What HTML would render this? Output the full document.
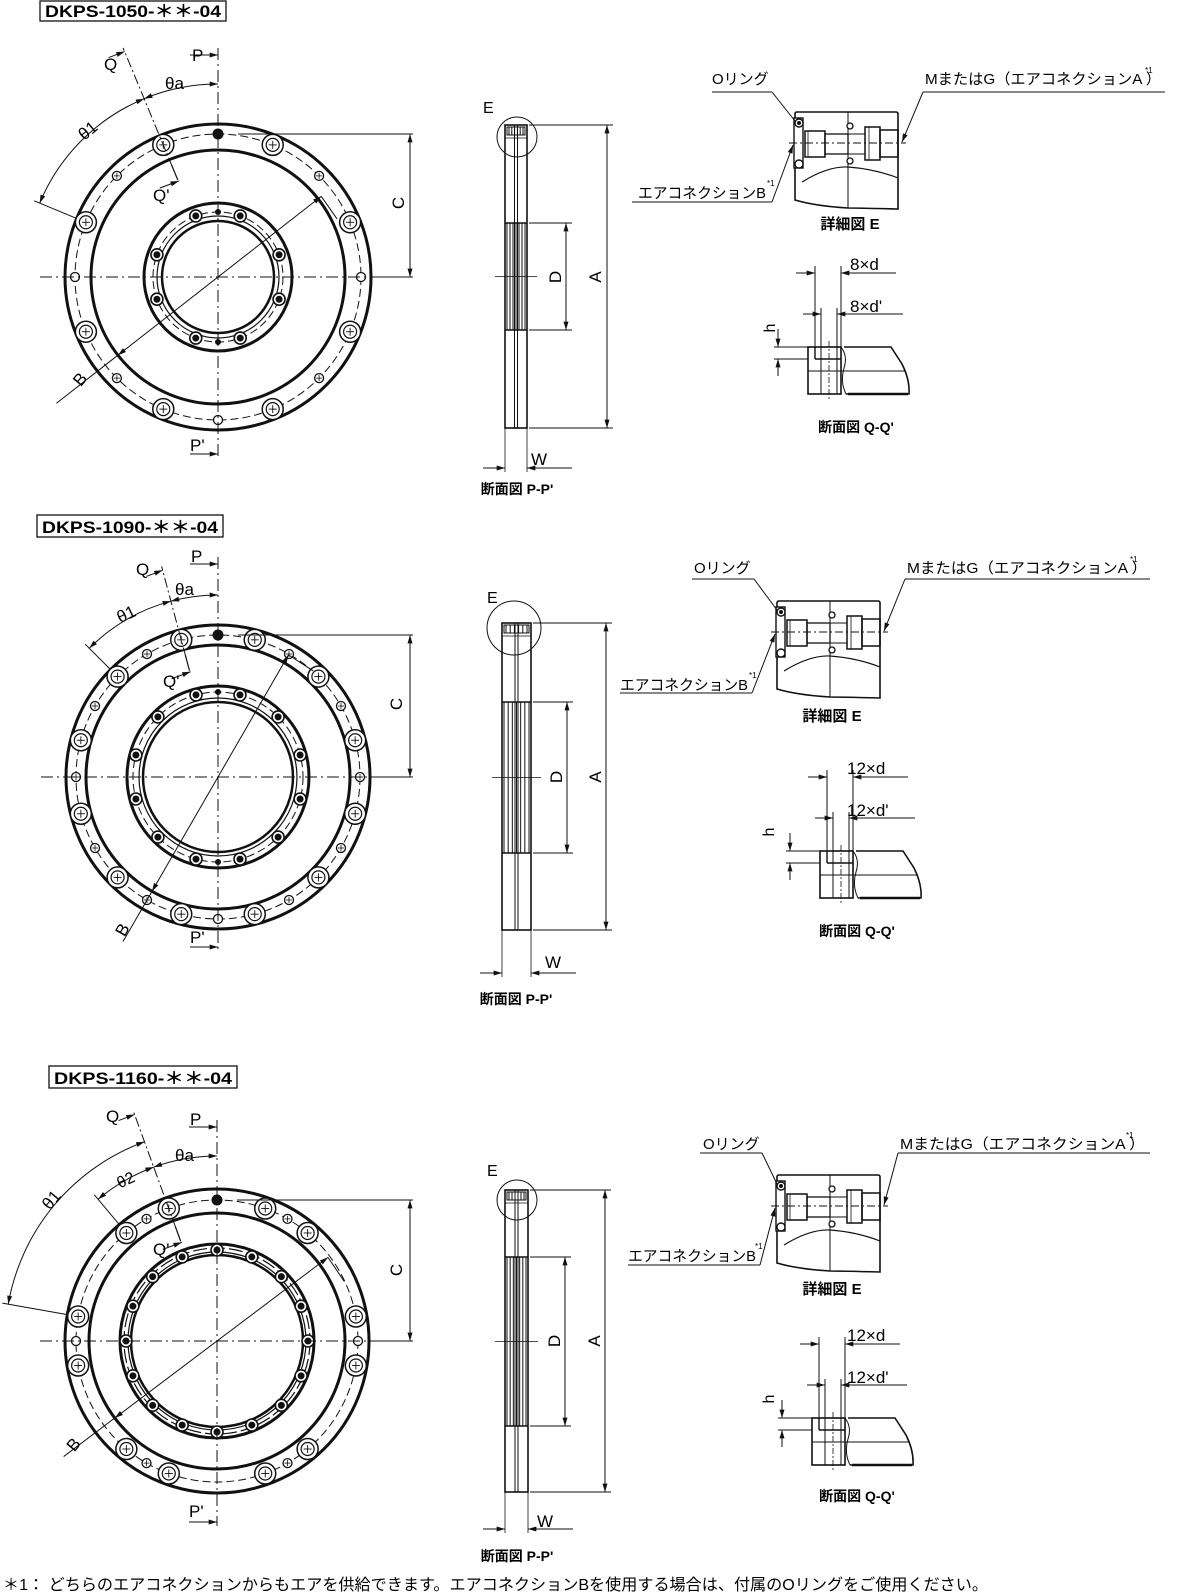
<!DOCTYPE html>
<html><head><meta charset="utf-8">
<style>
html,body{margin:0;padding:0;background:#fff;}
svg{display:block;}
text{font-family:"Liberation Sans","Noto Sans CJK JP",sans-serif;fill:#000;}
.b{font-weight:bold;}
</style></head>
<body>
<svg id="s" xmlns="http://www.w3.org/2000/svg" width="1202" height="1596" viewBox="0 0 1202 1596">
<defs>
<marker id="ar" viewBox="0 0 10 6" refX="10" refY="3" markerWidth="9" markerHeight="5" orient="auto-start-reverse" markerUnits="userSpaceOnUse"><path d="M0,0 L10,3 L0,6 z" fill="#111"/></marker>
</defs>
<g id="g" stroke="#111" fill="none"></g>

<!-- Titles -->
<rect x="40" y="1" width="186" height="20" fill="none" stroke="#111" stroke-width="1.3"/>
<text x="45" y="17" class="b" font-size="17" textLength="176" lengthAdjust="spacingAndGlyphs">DKPS-1050-＊＊-04</text>
<rect x="37" y="515" width="186" height="22" fill="none" stroke="#111" stroke-width="1.3"/>
<text x="42" y="533" class="b" font-size="17" textLength="176" lengthAdjust="spacingAndGlyphs">DKPS-1090-＊＊-04</text>
<rect x="49" y="1066" width="188" height="22" fill="none" stroke="#111" stroke-width="1.3"/>
<text x="54" y="1084" class="b" font-size="17" textLength="178" lengthAdjust="spacingAndGlyphs">DKPS-1160-＊＊-04</text>

<!-- Section 1 ring labels -->
<text x="192" y="61" font-size="17">P</text>
<text x="190" y="451" font-size="17">P'</text>
<text x="104" y="70" font-size="17">Q</text>
<text x="165" y="89" font-size="17">θa</text>
<text x="78" y="136" font-size="17" transform="rotate(-40 88 130)">θ1</text>
<text x="153" y="201" font-size="17">Q'</text>
<text x="74" y="383" font-size="17" transform="rotate(-50 82 378)">B</text>
<text x="404" y="203" font-size="17" transform="rotate(-90 404 203)" text-anchor="middle">C</text>

<!-- Section 2 ring labels -->
<text x="191" y="562" font-size="17">P</text>
<text x="190" y="943" font-size="17">P'</text>
<text x="136" y="575" font-size="17">Q</text>
<text x="175" y="595" font-size="17">θa</text>
<text x="116" y="619" font-size="17" transform="rotate(-25 128 612)">θ1</text>
<text x="163" y="687" font-size="17">Q'</text>
<text x="115" y="935" font-size="17" transform="rotate(-60 122 928)">B</text>
<text x="402" y="704" font-size="17" transform="rotate(-90 402 704)" text-anchor="middle">C</text>

<!-- Section 3 ring labels -->
<text x="190" y="1125" font-size="17">P</text>
<text x="189" y="1517" font-size="17">P'</text>
<text x="106" y="1122" font-size="17">Q</text>
<text x="175" y="1161" font-size="17">θa</text>
<text x="116" y="1185" font-size="16" transform="rotate(-25 126 1178)">θ2</text>
<text x="40" y="1206" font-size="17" transform="rotate(-50 50 1198)">θ1</text>
<text x="153" y="1255" font-size="17">Q'</text>
<text x="66" y="1449" font-size="17" transform="rotate(-50 74 1442)">B</text>
<text x="402" y="1270" font-size="17" transform="rotate(-90 402 1270)" text-anchor="middle">C</text>

<!-- Side views labels -->
<text x="483" y="113" font-size="16">E</text>
<text x="561" y="277" font-size="17" transform="rotate(-90 561 277)" text-anchor="middle">D</text>
<text x="601" y="277" font-size="17" transform="rotate(-90 601 277)" text-anchor="middle">A</text>
<text x="531" y="465" font-size="17">W</text>
<text x="517" y="494" font-size="14" class="b" text-anchor="middle">断面図 P-P'</text>

<text x="487" y="603" font-size="16">E</text>
<text x="562" y="777" font-size="17" transform="rotate(-90 562 777)" text-anchor="middle">D</text>
<text x="601" y="777" font-size="17" transform="rotate(-90 601 777)" text-anchor="middle">A</text>
<text x="545" y="968" font-size="17">W</text>
<text x="516" y="1004" font-size="14" class="b" text-anchor="middle">断面図 P-P'</text>

<text x="487" y="1176" font-size="16">E</text>
<text x="560" y="1341" font-size="17" transform="rotate(-90 560 1341)" text-anchor="middle">D</text>
<text x="600" y="1341" font-size="17" transform="rotate(-90 600 1341)" text-anchor="middle">A</text>
<text x="537" y="1527" font-size="17">W</text>
<text x="517" y="1561" font-size="14" class="b" text-anchor="middle">断面図 P-P'</text>

<!-- Detail E labels -->
<text x="712" y="84" font-size="15">Oリング</text>
<text x="925" y="84" font-size="15" textLength="236" lengthAdjust="spacingAndGlyphs">MまたはG（エアコネクションA ）</text>
<text x="1145" y="73" font-size="8">*1</text>
<text x="638" y="198" font-size="15" textLength="128" lengthAdjust="spacingAndGlyphs">エアコネクションB</text>
<text x="767" y="186" font-size="8">*1</text>
<text x="850" y="229" font-size="15" class="b" text-anchor="middle">詳細図 E</text>

<text x="694" y="573" font-size="15">Oリング</text>
<text x="907" y="573" font-size="15" textLength="240" lengthAdjust="spacingAndGlyphs">MまたはG（エアコネクションA ）</text>
<text x="1130" y="562" font-size="8">*1</text>
<text x="620" y="690" font-size="15" textLength="128" lengthAdjust="spacingAndGlyphs">エアコネクションB</text>
<text x="749" y="678" font-size="8">*1</text>
<text x="832" y="721" font-size="15" class="b" text-anchor="middle">詳細図 E</text>

<text x="703" y="1149" font-size="15">Oリング</text>
<text x="900" y="1149" font-size="15" textLength="245" lengthAdjust="spacingAndGlyphs">MまたはG（エアコネクションA ）</text>
<text x="1126" y="1138" font-size="8">*1</text>
<text x="628" y="1261" font-size="15" textLength="128" lengthAdjust="spacingAndGlyphs">エアコネクションB</text>
<text x="755" y="1249" font-size="8">*1</text>
<text x="832" y="1294" font-size="15" class="b" text-anchor="middle">詳細図 E</text>

<!-- Q-Q' labels -->
<text x="850" y="270" font-size="17">8×d</text>
<text x="850" y="312" font-size="17">8×d'</text>
<text x="775" y="328" font-size="16" transform="rotate(-90 775 328)" text-anchor="middle">h</text>
<text x="856" y="432" font-size="14" class="b" text-anchor="middle">断面図 Q-Q'</text>

<text x="847" y="774" font-size="17">12×d</text>
<text x="847" y="816" font-size="17">12×d'</text>
<text x="774" y="832" font-size="16" transform="rotate(-90 774 832)" text-anchor="middle">h</text>
<text x="857" y="936" font-size="14" class="b" text-anchor="middle">断面図 Q-Q'</text>

<text x="847" y="1341" font-size="17">12×d</text>
<text x="847" y="1383" font-size="17">12×d'</text>
<text x="774" y="1399" font-size="16" transform="rotate(-90 774 1399)" text-anchor="middle">h</text>
<text x="857" y="1501" font-size="14" class="b" text-anchor="middle">断面図 Q-Q'</text>

<text x="3" y="1590" font-size="16" textLength="985" lengthAdjust="spacingAndGlyphs">＊1：  どちらのエアコネクションからもエアを供給できます。エアコネクションBを使用する場合は、付属のOリングをご使用ください。</text>
</svg>
<script>
(function(){
var o=[];
function L(x1,y1,x2,y2,w,extra){o.push('<line x1="'+x1+'" y1="'+y1+'" x2="'+x2+'" y2="'+y2+'" stroke-width="'+(w||1)+'" '+(extra||'')+'/>');}
function C(x,y,r,w,fill,extra){o.push('<circle cx="'+x+'" cy="'+y+'" r="'+r+'" stroke-width="'+(w||1)+'" fill="'+(fill||'none')+'" '+(extra||'')+'/>');}
function Pth(d,w,extra){o.push('<path d="'+d+'" stroke-width="'+(w||1)+'" '+(extra||'')+'/>');}
function pt(cx,cy,r,a){a=a*Math.PI/180;return [cx+r*Math.sin(a),cy-r*Math.cos(a)];}
var A2='marker-end="url(#ar)"',AB='marker-start="url(#ar)" marker-end="url(#ar)"';
var DD='stroke-dasharray="12 4 2 4"',DS='stroke-dasharray="8 4"';
function arc(cx,cy,r,a1,a2,extra){var p=pt(cx,cy,r,a1),q=pt(cx,cy,r,a2);Pth('M'+p[0]+','+p[1]+' A'+r+','+r+' 0 0 1 '+q[0]+','+q[1],1,extra);}
function big(x,y){C(x,y,10.5,1.5,'#fff');C(x,y,6.5,1.2);L(x-4,y,x+4,y,0.9);L(x,y-4,x,y+4,0.9);}
function sm(x,y){C(x,y,4.5,1.3,'#fff');L(x-3,y,x+3,y,0.8);L(x,y-3,x,y+3,0.8);}
function op(x,y){C(x,y,4.5,1.3,'#fff');}
function so(x,y){C(x,y,5,1,'#111');}
function hh(x,y){C(x,y,6,1.6,'#fff');C(x,y,3,1,'#111');}
function ring(c){
 var cx=c.cx,cy=c.cy;
 C(cx,cy,c.R,3);C(cx,cy,c.Rf,3);
 C(cx,cy,c.Rb,1,'none',DS);
 c.hubR.forEach(function(h){C(cx,cy,h[0],h[1],'none',h[2]||'');});
 c.big.forEach(function(a){var p=pt(cx,cy,c.Rb,a);big(p[0],p[1]);});
 c.sm.forEach(function(a){var p=pt(cx,cy,c.Rb,a);sm(p[0],p[1]);});
 c.op.forEach(function(a){var p=pt(cx,cy,c.Rb,a);op(p[0],p[1]);});
 c.so.forEach(function(a){var p=pt(cx,cy,c.Rb,a);so(p[0],p[1]);});
 c.hh.forEach(function(a){var p=pt(cx,cy,c.hb,a);hh(p[0],p[1]);});
 c.hd.forEach(function(a){var p=pt(cx,cy,c.hb,a);C(p[0],p[1],2.5,1,'#111');});
 L(cx-c.R-25,cy,cx+c.R+40,cy,1,DD);
 L(cx,cy-c.Ptop,cx,cy+c.Pbot,1,DD);
 L(cx-28,cy-c.Ptop+7,cx,cy-c.Ptop+7,1,A2);
 L(cx-28,cy+c.Pbot-4,cx,cy+c.Pbot-4,1,A2);
 L(cx+20,cy-c.Rb,413,cy-c.Rb,1);L(cx+c.R,cy,413,cy,1);
 L(410,cy-c.Rb,410,cy,1,AB);
 var q1=pt(cx,cy,c.Rf-8,c.qa),q2=pt(cx,cy,c.qr,c.qa);L(q1[0],q1[1],q2[0],q2[1],1,'stroke-dasharray="10 3 2 3"');
 var qq=pt(cx,cy,c.qr-4,c.qa);L(qq[0]-16,qq[1]+6,qq[0],qq[1],1,A2);
 var qp=pt(cx,cy,c.Rf-6,c.qa),qp2=pt(cx,cy,c.Rf-22,c.qa);L(qp[0],qp[1],qp2[0],qp2[1],1.2);
 L(qp2[0]-18,qp2[1]+8,qp2[0]+1,qp2[1]+1,1,A2);
 arc(cx,cy,c.ar,c.qa,0,AB);
 arc(cx,cy,c.r1,c.a1,c.qa,AB);
 var e1=pt(cx,cy,c.R,c.a1),e2=pt(cx,cy,c.r1+6,c.a1);L(e1[0],e1[1],e2[0],e2[1],1);
 if(c.a2){arc(cx,cy,c.ar,c.a2,c.qa,AB);var f1=pt(cx,cy,c.R,c.a2),f2=pt(cx,cy,c.ar+6,c.a2);L(f1[0],f1[1],f2[0],f2[1],1);}
 var b1=pt(cx,cy,c.bu,c.ba),b2=pt(cx,cy,c.Rf,c.ba+180),b3=pt(cx,cy,c.bl,c.ba+180);
 L(b2[0],b2[1],b1[0],b1[1],1,AB);L(b2[0],b2[1],b3[0],b3[1],1);
 var t1=pt(cx,cy,c.bu,c.ba),t2=pt(cx,cy,c.bu,c.ba+6);L(t1[0],t1[1],t2[0]+(t2[0]-t1[0]),t2[1]+(t2[1]-t1[1]),1);
}
ring({cx:218,cy:277,R:153,Rf:127,Rb:143,
 hubR:[[74,3],[65,1,'stroke-dasharray="8 4"'],[61,1.2],[56,2.5]],hb:65,
 big:[22.5,67.5,112.5,157.5,202.5,247.5,292.5,337.5],sm:[45,135,225,315],op:[90,180,270],so:[0],
 hh:[20,70,110,160,200,250,290,340],hd:[0,180],Ptop:229,Pbot:181,qa:-22.5,qr:248,ar:193,r1:193,a1:-67.5,
 ba:52,bu:131,bl:205});
ring({cx:218,cy:777,R:152,Rf:132,Rb:142,
 hubR:[[91,3],[85,1,'stroke-dasharray="8 4"'],[79,1.2],[75,2.5]],hb:85,
 big:[15,45,75,105,135,165,195,225,255,285,315,345],sm:[30,60,90,120,150,210,240,270,300,330],op:[180],so:[0],
 hh:[15,45,75,105,135,165,195,225,255,285,315,345],hd:[0,180],Ptop:220,Pbot:174,qa:-15,qr:218,ar:182,r1:182,a1:-45,
 ba:30,bu:141,bl:190});
ring({cx:217,cy:1341,R:152,Rf:128,Rb:141,
 hubR:[[97,3],[93,1.2,'stroke-dasharray="14 4"'],[89,1.2],[86,2.5]],hb:91,
 big:[20,40,80,100,140,160,200,220,260,280,320,340],sm:[30,150,210,330],op:[90,270],so:[0],
 hh:[0,22.5,45,67.5,90,112.5,135,157.5,180,202.5,225,247.5,270,292.5,315,337.5],hd:[],Ptop:221,Pbot:185,qa:-20,qr:245,ar:185,r1:212,a1:-80,a2:-40,
 ba:53,bu:139,bl:192});
function side(x1,x2,top,bot,s1,s2,ex,ey,er,Ax,Dx,Wy){
 var m=(x1+x2)/2;
 o.push('<rect x="'+x1+'" y="'+top+'" width="'+(x2-x1)+'" height="'+(bot-top)+'" stroke-width="1.6" fill="#fff"/>');
 L(m-1.5,top,m-1.5,bot,1);L(m+1.5,top,m+1.5,bot,1);
 for(var i=0;i<7;i++){var x=x1+2+i*(x2-x1-4)/6;L(x,s1,x,s2,1);}
 L(x1,s1,x2,s1,1.5);L(x1,s2,x2,s2,1.5);
 o.push('<rect x="'+(x1+2)+'" y="'+(top+2)+'" width="'+(x2-x1-4)+'" height="8" stroke-width="1"/>');
 for(var j=0;j<6;j++){var xx=x1+4+j*(x2-x1-8)/5;L(xx,top+2,xx,top+10,1);}
 L(x1,top+13,x2,top+13,0.8);
 C(ex,ey,er,1);
 var my=(s1+s2)/2;L(x1-10,my,x2+10,my,0.8);
 L(x2+2,top,Ax+6,top,1);L(x2+2,bot,Ax+6,bot,1);L(Ax,top,Ax,bot,1,AB);
 L(x2+2,s1,Dx+6,s1,1);L(x2+2,s2,Dx+6,s2,1);L(Dx,s1,Dx,s2,1,AB);
 L(x1,bot,x1,Wy+4,0.8);L(x2,bot,x2,Wy+4,0.8);
 L(x1-22,Wy,x1,Wy,1,A2);L(x2+45,Wy,x2,Wy,1,A2);
}
side(505,527,125,428,223,330,517,137,20,607,566,468);
side(502,531,623,930,702,853,514,628,27,606,567,973);
side(505,528,1190,1492,1257,1426,517,1200,20,605,565,1529);
function det(dx,dy,lx1,lx2,rx2,bx1,bx2,by){
 var T=function(x,y){return (x+dx)+','+(y+dy);};
 Pth('M'+T(795,200)+' L'+T(795,114)+' Q'+T(795,112)+' '+T(797,112)+' L'+T(896,112)+' Q'+T(898,112)+' '+T(898,114)+' L'+T(898,209)+' Q'+T(860,208)+' '+T(848,208)+' Q'+T(815,206)+' '+T(795,200)+' Z',1.6,'fill="#fff"');
 Pth('M'+T(848,112)+' L'+T(848,208),1);
 Pth('M'+T(802,182)+' Q'+T(828,166)+' '+T(848,167)+' Q'+T(875,169)+' '+T(898,178),1.2);
 o.push('<rect x="'+(794+dx)+'" y="'+(118+dy)+'" width="9" height="50" stroke-width="1.4" fill="#fff"/>');
 C(799+dx,123+dy,4,1.4,'#fff');C(799+dx,123+dy,1.5,1,'#111');C(799+dx,164+dy,4,1.4,'#fff');
 o.push('<rect x="'+(805+dx)+'" y="'+(131+dy)+'" width="20" height="26" stroke-width="1.5"/>');
 L(808+dx,131+dy,808+dx,157+dy,0.8);
 o.push('<rect x="'+(825+dx)+'" y="'+(134+dy)+'" width="23" height="20" stroke-width="1.3"/>');
 o.push('<rect x="'+(848+dx)+'" y="'+(134+dy)+'" width="17" height="20" stroke-width="1"/>');
 C(850+dx,126+dy,3,1.3,'#fff');C(850+dx,161+dy,3,1.3,'#fff');
 o.push('<rect x="'+(865+dx)+'" y="'+(127+dy)+'" width="15" height="33" stroke-width="1.5"/>');
 L(869+dx,127+dy,869+dx,160+dy,0.8);
 o.push('<rect x="'+(880+dx)+'" y="'+(130+dy)+'" width="18" height="27" stroke-width="1.5"/>');
 L(789+dx,143+dy,906+dx,143+dy,0.9,'stroke-dasharray="8 3 2 3"');
 var uy=92+dy+(dx<-10?-2:0);
 L(lx1,uy,lx2,uy,1);L(lx2,uy,795+dx,121+dy,1);
 L(rx2[0],rx2[1],rx2[2],rx2[1],1);L(rx2[0],rx2[1],902+dx,142+dy,1,A2);
 L(bx1,by,bx2,by,1);L(bx2,by,793+dx,145+dy,1,A2);
}
det(0,0,712,772,[923,92,1165],632,772,202);
det(-18,489,692,754,[905,579,1150],620,752,693);
det(-18,1063,700,762,[898,1153,1150],628,760,1265);
function qqv(dx,dy){
 var X=function(x){return x+dx;},Y=function(y){return y+dy;};
 o.push('<rect x="'+X(820)+'" y="'+Y(851)+'" width="33" height="47" stroke-width="1.6" fill="#fff"/>');
 Pth('M'+X(856)+','+Y(851)+' L'+X(903)+','+Y(851)+' L'+X(914)+','+Y(868)+' Q'+X(922)+','+Y(884)+' '+X(921)+','+Y(898)+' L'+X(858)+','+Y(898),1.6);
 Pth('M'+X(853)+','+Y(851)+' Q'+X(860)+','+Y(860)+' '+X(856)+','+Y(872)+' Q'+X(852)+','+Y(886)+' '+X(858)+','+Y(898),1);
 L(X(860),Y(898),X(920),Y(898),2.5);
 L(X(827),Y(851),X(827),Y(863),1.4);L(X(827),Y(863),X(853),Y(863),1.4);
 L(X(820),Y(875),X(918),Y(875),1);
 L(X(833),Y(863),X(833),Y(898),1);L(X(849),Y(863),X(849),Y(898),1);
 L(X(841),Y(845),X(841),Y(905),0.8,'stroke-dasharray="6 2 2 2"');
 L(X(827),Y(770),X(827),Y(851),1);L(X(853),Y(770),X(853),Y(851),1);
 L(X(808),Y(777),X(827),Y(777),1,A2);L(X(908),Y(777),X(853),Y(777),1,A2);
 L(X(833),Y(812),X(833),Y(863),1);L(X(849),Y(812),X(849),Y(863),1);
 L(X(815),Y(818),X(833),Y(818),1,A2);L(X(915),Y(818),X(849),Y(818),1,A2);
 L(X(786),Y(851),X(820),Y(851),1);L(X(786),Y(863),X(820),Y(863),1);
 L(X(790),Y(833),X(790),Y(851),1,A2);L(X(790),Y(880),X(790),Y(863),1,A2);
}
qqv(-12,-504);qqv(0,0);qqv(-8,567);
document.getElementById('g').innerHTML=o.join('');
})();
</script>
</body></html>
